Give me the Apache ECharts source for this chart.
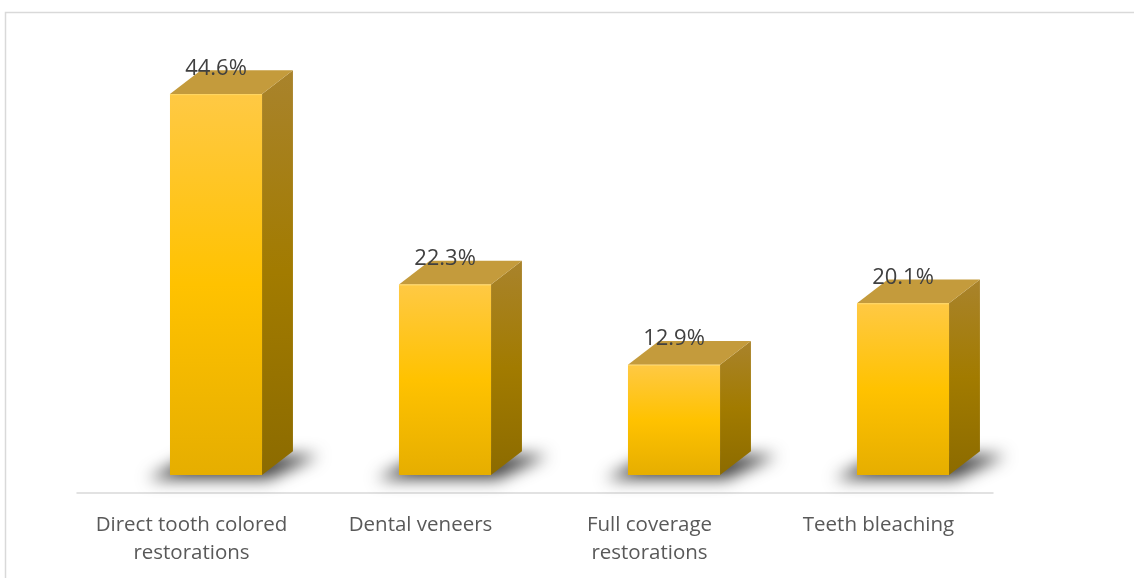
<!DOCTYPE html>
<html>
<head>
<meta charset="utf-8">
<script src="https://cdn.jsdelivr.net/npm/echarts@6/dist/echarts.min.js"></script>
<style>
html,body{margin:0;padding:0;background:#fff;}
#chart{width:1134px;height:578px;}
</style>
</head>
<body>
<div id="chart"></div>
<script>
const categories = ['Direct tooth colored\nrestorations', 'Dental veneers', 'Full coverage\nrestorations', 'Teeth bleaching'];
const values = [44.6, 22.3, 12.9, 20.1];
const valueLabels = ['44.6%', '22.3%', '12.9%', '20.1%'];

const chart = echarts.init(document.getElementById('chart'), null, {renderer: 'canvas'});
const G = echarts.graphic;

function renderItem(params, api) {
  const i = api.value(0);
  const top = api.coord([i, api.value(1)]);
  const base = api.coord([i, 0]);
  const band = api.size([1, 0])[0];
  const w = band * 0.402;
  const x0 = top[0] - band * 0.094;
  const x1 = x0 + w;
  const dx = band * 0.135;
  const dy = -dx * 0.77;
  const yt = top[1], yb = base[1];
  const OFF = 3000;
  return {
    type: 'group',
    children: [
      {
        type: 'polygon',
        shape: {points: [[x0 - 22, yb + 4 + OFF], [x1 + 6, yb + 4 + OFF], [x1 + dx + 26, yb + dy + 4 + OFF], [x0 + dx - 8, yb + dy + 4 + OFF]]},
        style: {fill: '#000', shadowBlur: 16, shadowColor: 'rgba(0,0,0,0.75)', shadowOffsetX: 0, shadowOffsetY: -OFF}
      },
      {
        type: 'polygon',
        shape: {points: [[x1, yt], [x1 + dx, yt + dy], [x1 + dx, yb + dy], [x1, yb]]},
        style: {fill: new G.LinearGradient(0, 0, 0, 1, [
          {offset: 0, color: '#A9832C'}, {offset: 0.5, color: '#A27B00'}, {offset: 1, color: '#8C6B00'}])}
      },
      {
        type: 'polygon',
        shape: {points: [[x0, yt], [x0 + dx, yt + dy], [x1 + dx, yt + dy], [x1, yt]]},
        style: {fill: '#C49B3C'}
      },
      {
        type: 'rect',
        shape: {x: x0, y: yt, width: w, height: yb - yt},
        style: {fill: new G.LinearGradient(0, 0, 0, 1, [
          {offset: 0, color: '#FFC944'}, {offset: 0.5, color: '#FFC200'}, {offset: 1, color: '#E6AE00'}])}
      },
      {
        type: 'line',
        shape: {x1: x0, y1: yt + 0.5, x2: x1, y2: yt + 0.5},
        style: {stroke: '#FFD766', lineWidth: 1}
      },
      {
        type: 'text',
        x: x0 + w / 2,
        y: yt + dy - 2,
        style: {text: valueLabels[i], fill: '#404040', fontSize: 22, fontFamily: 'Open Sans', align: 'center', verticalAlign: 'middle'}
      }
    ]
  };
}

chart.setOption({
  animation: false,
  backgroundColor: '#fff',
  graphic: [{
    type: 'rect', z: -10,
    shape: {x: 5.5, y: 12.5, width: 1300, height: 800},
    style: {fill: 'none', stroke: '#D9D9D9', lineWidth: 1.5}
  }],
  grid: {left: 77, right: 141, top: 48, bottom: 103},
  xAxis: {
    type: 'category',
    data: categories,
    offset: 18,
    axisTick: {show: false},
    axisLine: {onZero: false, lineStyle: {color: '#D9D9D9', width: 1.5}},
    axisLabel: {interval: 0, fontSize: 20.5, fontFamily: 'Open Sans', color: '#595959', lineHeight: 28, margin: 18}
  },
  yAxis: {type: 'value', min: 0, max: 50, show: false, splitLine: {show: false}},
  series: [{
    type: 'custom',
    renderItem: renderItem,
    data: values.map((v, i) => [i, v]),
    encode: {x: 0, y: 1},
    clip: false
  }]
});
</script>
</body>
</html>
